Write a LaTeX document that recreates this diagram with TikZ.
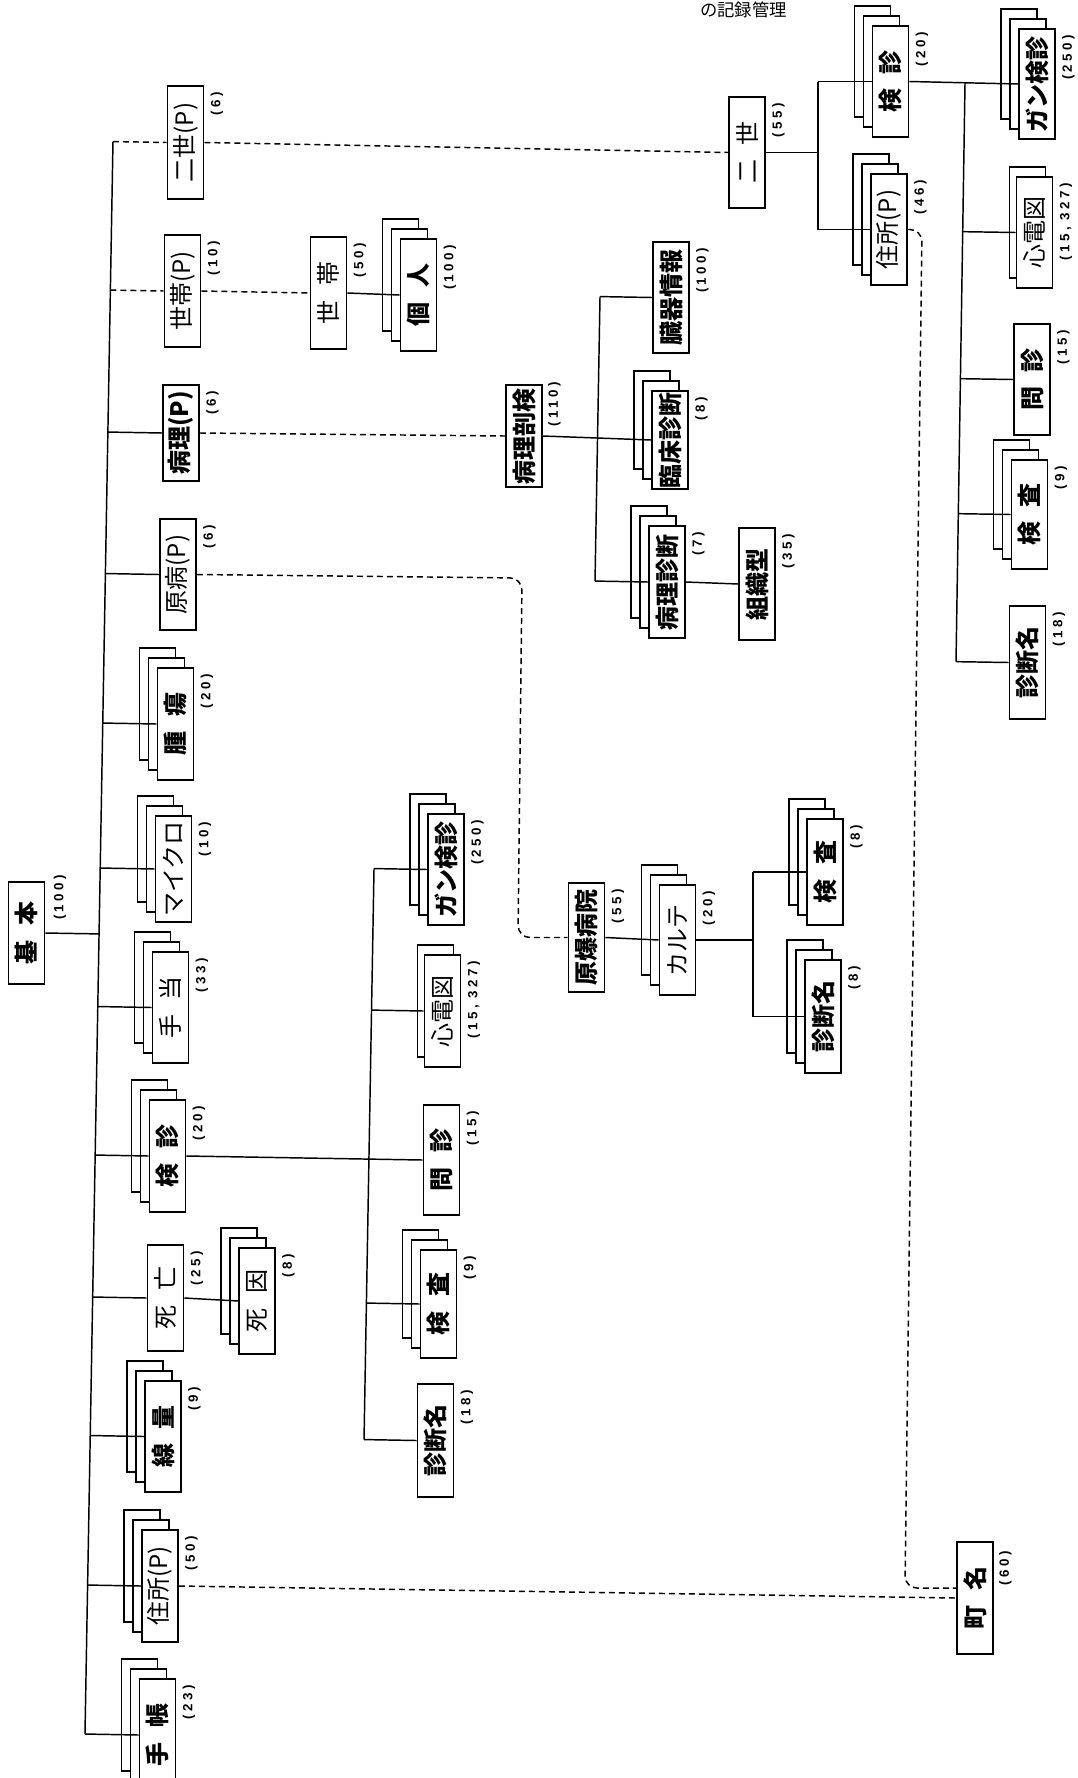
\documentclass[tikz,border=0pt]{standalone}
\usepackage{graphicx}
\usepackage{fontspec}
\usetikzlibrary{calc,shadows}
\newfontfamily\jpfont{Noto Sans CJK JP}
\newfontfamily\labfont[LetterSpace=25]{Liberation Sans}
\newcommand\boxfont{\fontsize{18}{18}\selectfont\jpfont}
\newcommand\R[1]{\rotatebox{90}{#1}}
\newcommand\gp{\hspace{0.6em}}
\newcommand\lab[3][(6,7)]{\node[lbl] (#2l) at ($(#2.north east)+#1$) {#3};}
\tikzset{
  bx/.style={draw, fill=white, line width=1.3pt, minimum width=27pt,
    minimum height=#1*0.75pt, inner sep=0pt, font=\boxfont\bfseries},
  rg/.style={font=\boxfont},
  stwo/.style={
    general shadow={shadow xshift=-13.5pt, shadow yshift=15pt, draw=black, fill=white, line width=1.1pt},
    general shadow={shadow xshift=-6.75pt, shadow yshift=7.5pt, draw=black, fill=white, line width=1.1pt}},
  sone/.style={
    general shadow={shadow xshift=-5.25pt, shadow yshift=7.5pt, draw=black, fill=white, line width=1.1pt}},
  lbl/.style={font=\fontsize{10}{10}\selectfont\labfont\bfseries, inner sep=0pt, rotate=90, anchor=north east},
  ln/.style={line width=1.1pt},
  dsh/.style={line width=1.1pt, dash pattern=on 4.5pt off 3pt},
}
\begin{document}
\begin{tikzpicture}[x=0.75pt,y=-0.75pt]
\fill[white] (0,0) rectangle (1078,1778);
\useasboundingbox (0,0) rectangle (1078,1778);

% title
\node[font=\fontsize{13}{13}\selectfont\jpfont, anchor=north east, inner sep=0pt] (title) at (787,2) {の記録管理};

% ---- left column ----
\node[bx=113,rg] (a1) at (185.5,142.5) {\R{二世(P)}};
\node[bx=112,rg] (a2) at (182.5,291) {\R{世帯(P)}};
\node[bx=96] (a3) at (181,433) {\R{病理(P)}};
\node[bx=111,rg] (a4) at (178,574.5) {\R{原病(P)}};
\node[bx=112,stwo] (a5) at (175.5,724) {\R{腫\gp 瘍}};
\node[bx=106,stwo,rg] (a6) at (173.5,869) {\R{マイクロ}};
\node[bx=102] (k) at (26.5,933) {\R{基\gp 本}};
\node[bx=111,stwo,rg] (a7) at (170.5,1007.5) {\R{手\gp 当}};
\node[bx=112,stwo] (a8) at (167.5,1156) {\R{検\gp 診}};
\node[bx=106,rg] (a9) at (165.5,1298) {\R{死\gp 亡}};
\node[bx=106,stwo,rg] (a9b) at (257,1301) {\R{死\gp 因}};
\node[bx=111,stwo] (a10) at (163,1436.5) {\R{線\gp 量}};
\node[bx=112,stwo,rg] (a11) at (160,1586) {\R{住所(P)}};
\node[bx=112,stwo] (a12) at (157.5,1735) {\R{手\gp 帳}};

% ---- middle column ----
\node[bx=111,stwo] (m1) at (446,869.5) {\R{ガン検診}};
\node[bx=112,sone,rg] (m2) at (442.5,1011) {\R{心電図}};
\node[bx=110] (m3) at (441.5,1160) {\R{問\gp 診}};
\node[bx=108,stwo] (m4) at (438.5,1304) {\R{検\gp 査}};
\node[bx=113] (m5) at (435.5,1440.5) {\R{診断名}};

% ---- setai ----
\node[bx=112,rg] (s1) at (328.5,293) {\R{世\gp 帯}};
\node[bx=112,stwo] (s2) at (418.5,295) {\R{個\gp 人}};

% ---- pathology ----
\node[bx=102] (p0) at (524,436) {\R{病理剖検}};
\node[bx=111] (p1) at (671,297.5) {\R{臓器情報}};
\node[bx=98,stwo] (p2) at (670,440) {\R{臨床診断}};
\node[bx=112,stwo] (p3) at (667,582) {\R{病理診断}};
\node[bx=112] (p4) at (757,584) {\R{組織型}};

% ---- genbaku ----
\node[bx=109] (g0) at (586.5,937.5) {\R{原爆病院}};
\node[bx=110,stwo,rg] (g1) at (677.5,940) {\R{カルテ}};
\node[bx=106,stwo] (g2) at (825,872) {\R{検\gp 査}};
\node[bx=113,stwo] (g3) at (823,1016.5) {\R{診断名}};

% ---- right ----
\node[bx=111,rg] (r0) at (747,152.5) {\R{二\gp 世}};
\node[bx=111,stwo] (r1) at (890.5,81.5) {\R{検\gp 診}};
\node[bx=111,stwo,rg] (r2) at (889,229.5) {\R{住所(P)}};
\node[bx=110,stwo] (r3) at (1037,84) {\R{ガン検診}};
\node[bx=111,sone,rg] (r4) at (1034.5,232.5) {\R{心電図}};
\node[bx=111] (r5) at (1032,379.5) {\R{問\gp 診}};
\node[bx=109,stwo] (r6) at (1029.5,514.5) {\R{検\gp 査}};
\node[bx=113] (r7) at (1027.5,662.5) {\R{診断名}};
\node[bx=112] (c0) at (975,1598) {\R{町\gp 名}};

% ---- labels ----
\lab{a1}{(6)} \lab{a2}{(10)} \lab{a3}{(6)} \lab{a4}{(6)}
\lab{a5}{(20)} \lab{a6}{(10)} \lab[(8,-6)]{k}{(100)} \lab{a7}{(33)}
\lab{a8}{(20)} \lab{a9}{(25)} \lab{a9b}{(8)} \lab{a10}{(9)}
\lab{a11}{(50)} \lab{a12}{(23)}
\lab{m1}{(250)} \lab{m2}{(15, 327)} \lab{m3}{(15)} \lab{m4}{(9)} \lab{m5}{(18)}
\lab{s1}{(50)} \lab{s2}{(100)}
\lab[(5,-2)]{p0}{(110)} \lab{p1}{(100)} \lab{p2}{(8)} \lab{p3}{(7)} \lab{p4}{(35)}
\lab{g0}{(55)} \lab{g1}{(20)} \lab{g2}{(8)} \lab{g3}{(8)}
\lab{r0}{(55)} \lab{r1}{(20)} \lab{r2}{(46)} \lab{r3}{(250)} \lab{r4}{(15, 327)}
\lab{r5}{(15)} \lab{r6}{(9)} \lab{r7}{(18)} \lab[(5,10)]{c0}{(60)}

% ---- spine definitions ----
\coordinate (sT) at (113,141);  \coordinate (sB) at (85,1732);
\coordinate (t2) at (374,869.5); \coordinate (b2) at (364,1440.5);
\coordinate (t3) at (600,297.5); \coordinate (b3) at (595,582);
\coordinate (t4) at (753,872);   \coordinate (b4) at (753,1016.5);
\coordinate (t5) at (818,81.5);  \coordinate (b5) at (818,229.5);
\coordinate (t6) at (965,84);    \coordinate (b6) at (956,662.5);

% main spine
\draw[ln] ($(sT)!(a1.west)!(sB)$) -- ($(sT)!(a12.west)!(sB)$);
\draw[dsh] ($(sT)!(a1.west)!(sB)$) -- (a1.west);
\draw[dsh] ($(sT)!(a2.west)!(sB)$) -- (a2.west);
\foreach \n in {a3,a4,a5,a6,a7,a8,a9,a10,a11,a12}
  \draw[ln] ($(sT)!(\n.west)!(sB)$) -- (\n.west);
\draw[ln] (k.east) -- ($(sT)!(k.east)!(sB)$);
\draw[ln] (a9.east) -- (a9b.west);

% middle spine
\draw[ln] (a8.east) -- (m3.west);
\draw[ln] ($(t2)!(m1.west)!(b2)$) -- ($(t2)!(m5.west)!(b2)$);
\foreach \n in {m1,m2,m4,m5}
  \draw[ln] ($(t2)!(\n.west)!(b2)$) -- (\n.west);

% setai
\draw[dsh] (a2.east) -- (s1.west);
\draw[ln] (s1.east) -- (s2.west);

% pathology
\draw[dsh] (a3.east) -- (p0.west);
\draw[ln] (p0.east) -- (p2.west);
\draw[ln] ($(t3)!(p1.west)!(b3)$) -- ($(t3)!(p3.west)!(b3)$);
\foreach \n in {p1,p3}
  \draw[ln] ($(t3)!(\n.west)!(b3)$) -- (\n.west);
\draw[ln] (p3.east) -- (p4.west);

% genbaku
\coordinate (cA) at (522,578);
\coordinate (cB) at (518,937.5);
\draw[dsh, rounded corners=9pt] (a4.east) -- (cA) -- (cB) -- (g0.west);
\draw[ln] (g0.east) -- (g1.west);
\draw[ln] (g1.east) -- ($(t4)!(g1.east)!(b4)$);
\draw[ln] ($(t4)!(g2.west)!(b4)$) -- ($(t4)!(g3.west)!(b4)$);
\foreach \n in {g2,g3}
  \draw[ln] ($(t4)!(\n.west)!(b4)$) -- (\n.west);

% right group
\draw[dsh] (a1.east) -- (r0.west);
\draw[ln] (r0.east) -- ($(t5)!(r0.east)!(b5)$);
\draw[ln] ($(t5)!(r1.west)!(b5)$) -- ($(t5)!(r2.west)!(b5)$);
\foreach \n in {r1,r2}
  \draw[ln] ($(t5)!(\n.west)!(b5)$) -- (\n.west);
\draw[ln] (r1.east) -- (r3.west);
\draw[ln] ($(t6)!(r3.west)!(b6)$) -- ($(t6)!(r7.west)!(b6)$);
\foreach \n in {r4,r5,r6,r7}
  \draw[ln] ($(t6)!(\n.west)!(b6)$) -- (\n.west);

% to machimei
\coordinate (cC) at (922,229.5);
\coordinate (cD) at (905,1588);
\draw[dsh, rounded corners=9pt] (r2.east) -- (cC) -- (cD) -- ($(c0.west)+(0,-10)$);
\draw[dsh] (a11.east) -- (c0.west);
\end{tikzpicture}
\end{document}
